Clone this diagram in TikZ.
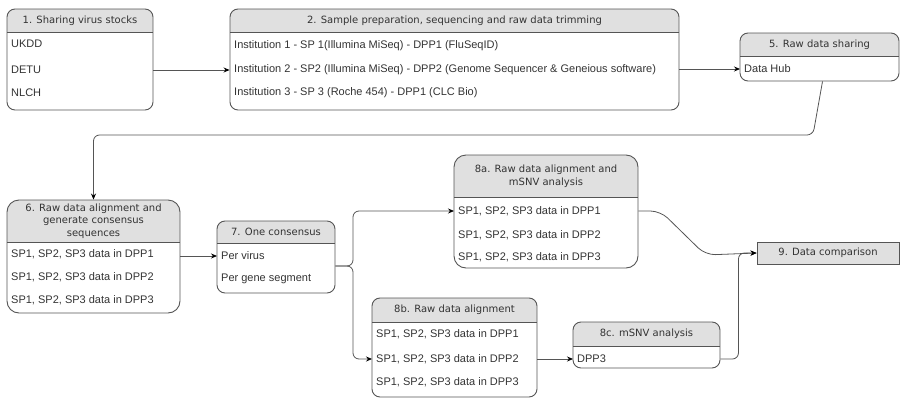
\documentclass[tikz,border=0pt]{standalone}
\usepackage{fontspec}
\setmainfont{Liberation Sans}
\newfontfamily\hdrfont{DejaVu Sans}
\usetikzlibrary{arrows.meta, calc}

\definecolor{linegray}{HTML}{555555}
\definecolor{hdrgray}{HTML}{E0E0E0}
\definecolor{txtgray}{HTML}{333333}

\tikzset{
  lane/.style={draw=linegray, line width=0.9pt, rounded corners=8pt,
    path picture={
      \fill[hdrgray, sharp corners] (path picture bounding box.north west)
        rectangle ([yshift=-#1]path picture bounding box.north east);
      \draw[linegray, sharp corners, line width=0.9pt]
        ([yshift=-#1]path picture bounding box.north west) --
        ([yshift=-#1]path picture bounding box.north east);
    }},
  head/.style={font=\hdrfont\fontsize{10}{12.5}\selectfont, text=txtgray,
    align=center, inner sep=0pt},
  row/.style={anchor=west, font=\fontsize{11}{13}\selectfont, text=txtgray,
    inner xsep=4pt, inner ysep=0pt},
  flow/.style={draw=linegray, line width=0.8pt,
    -{Stealth[length=6pt, width=5pt, black]}},
}

\begin{document}
\begin{tikzpicture}[x=1pt, y=-1pt]
    \useasboundingbox (0,0) rectangle (900,399);

    % Boxes
    \node[lane=23pt, minimum width=146pt, minimum height=101pt] (stocks) at (80,59.5) {};
    \node[head] (stocks-h) at (80,20.5) {1. Sharing virus stocks};
    \node[row] (stocks-1) at (7,44) {UKDD};
    \node[row] (stocks-2) at (7,70) {DETU};
    \node[row] (stocks-3) at (7,93) {NLCH};

    \node[lane=23pt, minimum width=449pt, minimum height=101pt] (prep) at (454.5,59.5) {};
    \node[head] (prep-h) at (454.5,20.5) {2. Sample preparation, sequencing and raw data trimming};
    \node[row] (prep-1) at (230,46) {Institution 1 - SP 1(Illumina MiSeq) - DPP1 (FluSeqID)};
    \node[row] (prep-2) at (230,70) {Institution 2 - SP2 (Illumina MiSeq) - DPP2 (Genome Sequencer \& Geneious software)};
    \node[row] (prep-3) at (230,93) {Institution 3 - SP 3 (Roche 454) - DPP1 (CLC Bio)};

    \node[lane=23pt, minimum width=159pt, minimum height=48pt] (share) at (819.5,57) {};
    \node[head] (share-h) at (819.5,44.5) {5. Raw data sharing};
    \node[row] (share-1) at (740,69) {Data Hub};

    \node[lane=42pt, rounded corners=12pt, minimum width=173pt, minimum height=113pt] (align) at (93.5,256.5) {};
    \node[head] (align-h) at (93.5,221) {6. Raw data alignment and\\generate consensus\\sequences};
    \node[row] (align-1) at (7,254) {SP1, SP2, SP3 data in DPP1};
    \node[row] (align-2) at (7,277) {SP1, SP2, SP3 data in DPP2};
    \node[row] (align-3) at (7,300) {SP1, SP2, SP3 data in DPP3};

    \node[lane=22pt, minimum width=118pt, minimum height=72pt] (cons) at (276,257) {};
    \node[head] (cons-h) at (276,232) {7. One consensus};
    \node[row] (cons-1) at (217,256) {Per virus};
    \node[row] (cons-2) at (217,279) {Per gene segment};

    \node[lane=42pt, rounded corners=12pt, minimum width=184pt, minimum height=113pt] (snvA) at (546,211.5) {};
    \node[head] (snvA-h) at (546,176) {8a. Raw data alignment and\\mSNV analysis};
    \node[row] (snvA-1) at (454,211) {SP1, SP2, SP3 data in DPP1};
    \node[row] (snvA-2) at (454,235) {SP1, SP2, SP3 data in DPP2};
    \node[row] (snvA-3) at (454,257) {SP1, SP2, SP3 data in DPP3};

    \node[lane=24pt, minimum width=165pt, minimum height=99pt] (alnB) at (454.5,347.5) {};
    \node[head] (alnB-h) at (454.5,310) {8b. Raw data alignment};
    \node[row] (alnB-1) at (372,334) {SP1, SP2, SP3 data in DPP1};
    \node[row] (alnB-2) at (372,359) {SP1, SP2, SP3 data in DPP2};
    \node[row] (alnB-3) at (372,382) {SP1, SP2, SP3 data in DPP3};

    \node[lane=24pt, minimum width=147pt, minimum height=46pt] (snvC) at (646.5,345) {};
    \node[head] (snvC-h) at (646.5,334) {8c. mSNV analysis};
    \node[row] (snvC-1) at (573,359) {DPP3};

    \node[head, draw=linegray, fill=hdrgray, line width=0.9pt,
          minimum width=142pt, minimum height=22pt] (comp) at (828,253) {9. Data comparison};

    % Turning points
    \coordinate (turn) at (813,135);
    \coordinate (fork) at (353,266);

    % Connectors
    \draw[flow] (stocks.east |- stocks-2) -- (stocks-2 -| prep.west);
    \draw[flow] (prep.east |- share-1) -- (share-1.west);
    \draw[flow, rounded corners=6pt] ([xshift=3pt]share.south) -- (turn) -| (align.north);
    \draw[flow] (align.east |- cons-1) -- (cons-1.west);
    \draw[flow, rounded corners=6pt] (cons.east |- fork) -- (fork) |- (snvA-1.west);
    \draw[flow, rounded corners=6pt] (cons.east |- fork) -- (fork) |- (alnB-2.west);
    \draw[flow] (alnB.east |- snvC-1) -- (snvC-1.west);
    \draw[flow, rounded corners=10pt] (snvA.east |- snvA-1) -- ++(22,0) -- ++(45,44) -- (comp.west);
    \draw[flow, rounded corners=6pt] (snvC.east |- snvC-1) -- ++(18,0) |- (comp.west);
\end{tikzpicture}
\end{document}
